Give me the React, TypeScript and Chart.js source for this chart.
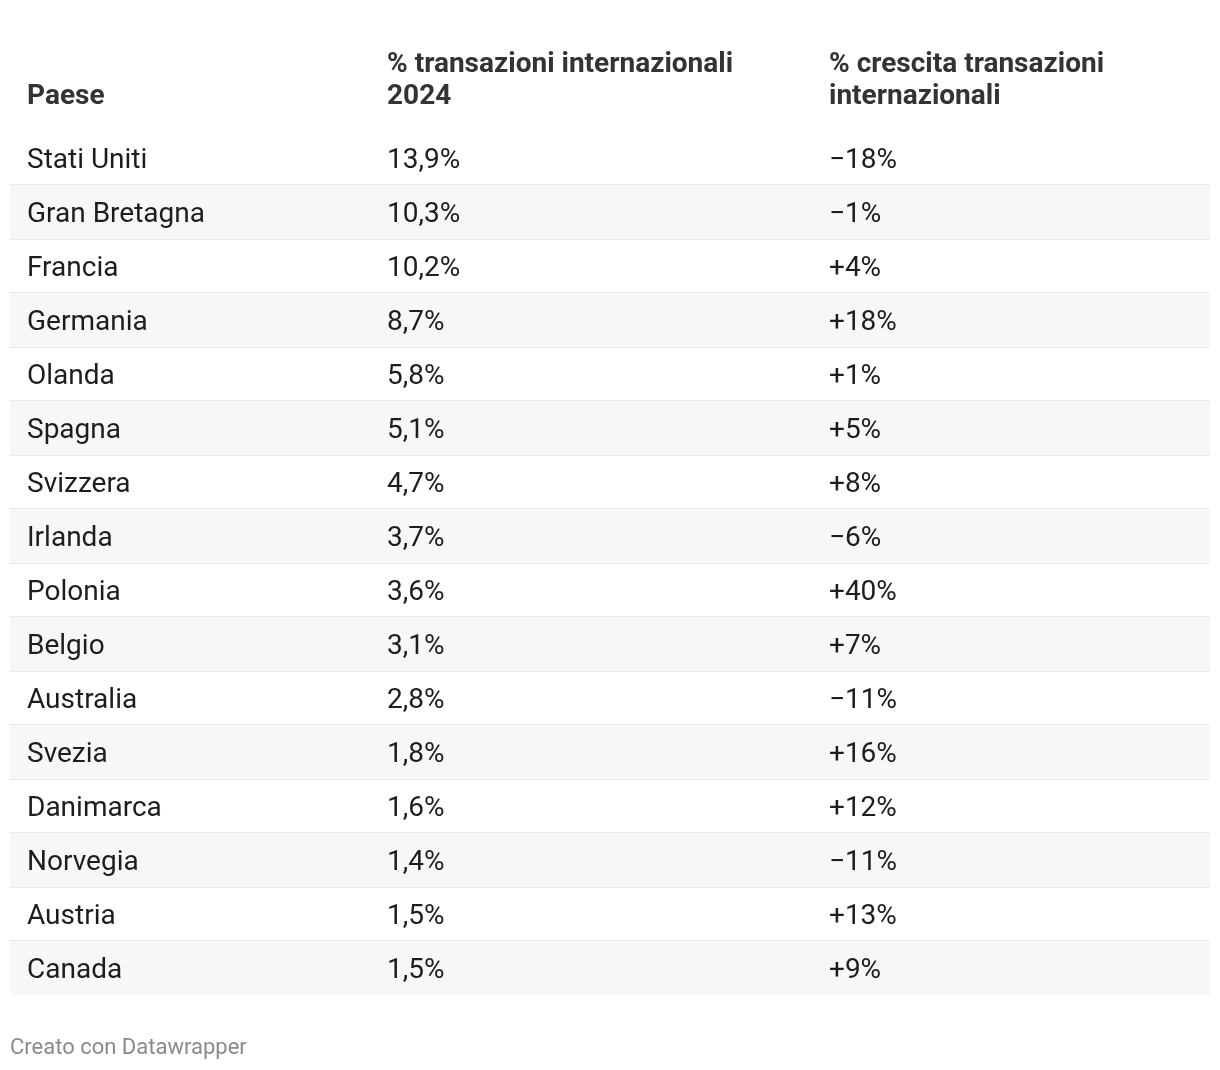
import React, { useEffect, useRef } from "react";
import { Chart, registerables } from "chart.js";

Chart.register(...registerables);

const countries = [
  "Stati Uniti", "Gran Bretagna", "Francia", "Germania", "Olanda", "Spagna",
  "Svizzera", "Irlanda", "Polonia", "Belgio", "Australia", "Svezia",
  "Danimarca", "Norvegia", "Austria", "Canada",
];
const share2024 = [13.9, 10.3, 10.2, 8.7, 5.8, 5.1, 4.7, 3.7, 3.6, 3.1, 2.8, 1.8, 1.6, 1.4, 1.5, 1.5];
const growth = [-18, -1, 4, 18, 1, 5, 8, -6, 40, 7, -11, 16, 12, -11, 13, 9];
const headers = [
  ["Paese"],
  ["% transazioni internazionali", "2024"],
  ["% crescita transazioni", "internazionali"],
];
const footer = "Creato con Datawrapper";

const fmtShare = (v: number) => v.toFixed(1).replace(".", ",") + "%";
const fmtGrowth = (v: number) => (v < 0 ? "\u2212" + Math.abs(v) : "+" + v) + "%";

const COL_X = [17, 377, 819];
const FONT = "Roboto";

const tablePlugin = {
  id: "tableText",
  afterDraw(chart: any) {
    const { ctx, chartArea, scales } = chart;
    const y = scales.y;
    ctx.save();
    ctx.textAlign = "left";
    ctx.textBaseline = "alphabetic";
    // headers
    ctx.fillStyle = "#333333";
    ctx.font = `bold 28px ${FONT}`;
    headers.forEach((lines, c) => {
      const n = lines.length;
      lines.forEach((line, k) => {
        const base = chartArea.top - 27 - (n - 1 - k) * 32;
        ctx.fillText(line, chartArea.left + COL_X[c], base);
      });
    });
    // cells
    ctx.fillStyle = "#1d1d1d";
    ctx.font = `28px ${FONT}`;
    countries.forEach((name, i) => {
      const yc = y.getPixelForValue(i) + 10;
      ctx.fillText(name, chartArea.left + COL_X[0], yc);
      ctx.fillText(fmtShare(share2024[i]), chartArea.left + COL_X[1], yc);
      ctx.fillText(fmtGrowth(growth[i]), chartArea.left + COL_X[2], yc);
    });
    // footer
    ctx.fillStyle = "#8a8a8a";
    ctx.font = `22px ${FONT}`;
    ctx.fillText(footer, chartArea.left, chartArea.bottom + 59);
    ctx.restore();
  },
};

export default function App() {
  const ref = useRef<HTMLCanvasElement | null>(null);
  useEffect(() => {
    if (!ref.current) return;
    const n = countries.length;
    const chart = new Chart(ref.current, {
      type: "bar",
      data: {
        labels: countries,
        datasets: [
          {
            data: countries.map((_, i) => (i % 2 === 1 ? [0, 1] : null)) as any,
            backgroundColor: "#f7f7f7",
            borderWidth: 0,
            barPercentage: 1,
            categoryPercentage: 1,
          },
        ],
      },
      options: {
        indexAxis: "y",
        responsive: false,
        animation: false,
        devicePixelRatio: 1,
        events: [],
        layout: { padding: { left: 10, right: 10, top: 131, bottom: 75 } },
        plugins: { legend: { display: false }, tooltip: { enabled: false }, title: { display: false } },
        scales: {
          x: { display: false, min: 0, max: 1 },
          y: {
            z: 1,
            ticks: { display: false },
            border: { display: false },
            grid: {
              offset: true,
              drawTicks: false,
              lineWidth: 2,
              color: (c: any) =>
                c.type !== "tick" || c.index === 0 || c.index === undefined || c.index >= n
                  ? "rgba(0,0,0,0)"
                  : "#e6e6e6",
            },
          },
        },
      },
      plugins: [tablePlugin],
    });
    (document as any).fonts?.load?.(`28px ${FONT}`).then(() => chart.update()).catch(() => {});
    return () => chart.destroy();
  }, []);
  return (
    <div style={{ position: "absolute", left: 0, top: 0, width: 1220, height: 1070, background: "#fff" }}>
      <canvas ref={ref} width={1220} height={1070} style={{ display: "block" }} />
    </div>
  );
}
